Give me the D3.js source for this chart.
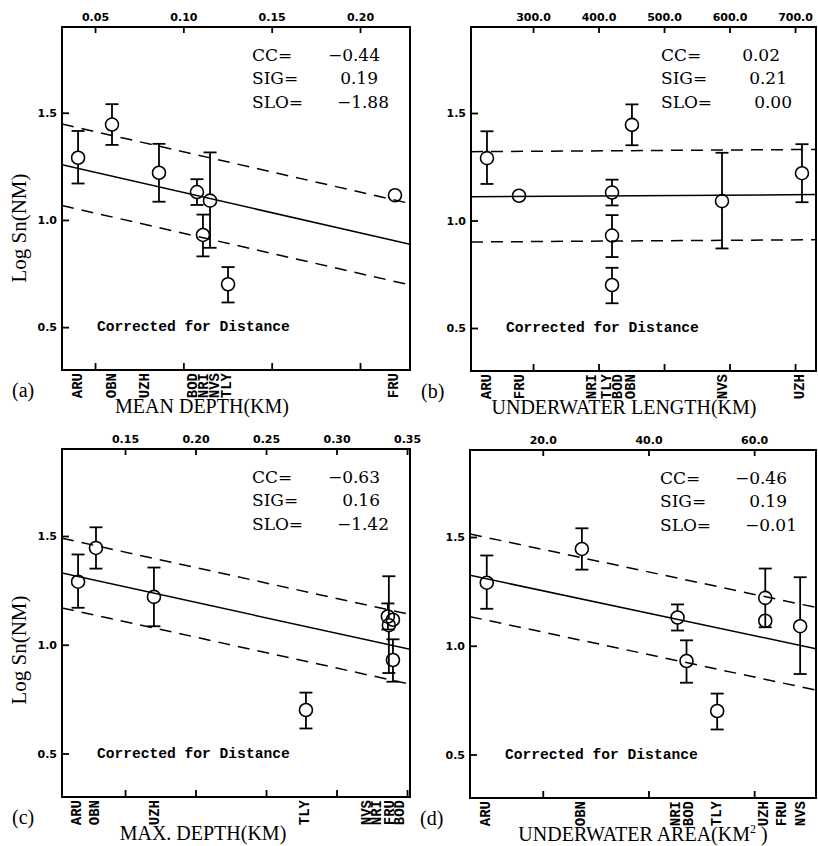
<!DOCTYPE html>
<html><head><meta charset="utf-8">
<script src="https://cdn.jsdelivr.net/npm/d3@7"></script>
<style>body{margin:0;background:#fff}</style>
</head><body><svg id="chart" width="818" height="846"></svg>
<script>
// ---- data ----
const stations = ["ARU","OBN","UZH","BOD","NRI","NVS","TLY","FRU"];
const logSn    = [1.29, 1.445, 1.22, 1.13, 0.93, 1.09, 0.70, 1.115];
const errLow   = [1.17, 1.35, 1.085, 1.07, 0.83, 0.87, 0.615, null];
const errHigh  = [1.415, 1.54, 1.355, 1.19, 1.025, 1.315, 0.78, null];

// x values per panel (station order)
const meanDepth        = [0.0404, 0.0596, 0.0862, 0.1077, 0.1111, 0.1151, 0.1253, 0.2198];
const meanDepthLabels  = [0.0404, 0.0596, 0.0783, 0.1054, 0.1117, 0.1179, 0.1247, 0.2192];
const uwLength         = [229.7, 451, 710.6, 420.6, 420.6, 588.5, 420.6, 278.6];
const uwLengthLabels   = [229.7, 449.6, 707.6, 429.8, 390, 590, 413, 280];
const maxDepth         = [0.1167, 0.1294, 0.1705, 0.3364, 0.3400, 0.3371, 0.2783, 0.3400];
const maxDepthLabels   = [0.1160, 0.1287, 0.1713, 0.3450, 0.3286, 0.3215, 0.2776, 0.3379];
const uwArea           = [9.4, 27.4, 62.1, 45.5, 47.2, 68.7, 53.0, 62.1];
const uwAreaLabels     = [9.2, 27.2, 61.9, 47.7, 45.3, 68.9, 53.0, 65.3];

const meanDepthTicks = [0.05, 0.10, 0.15, 0.20];
const uwLengthTicks  = [300, 400, 500, 600, 700];
const maxDepthTicks  = [0.15, 0.20, 0.25, 0.30, 0.35];
const uwAreaTicks    = [20, 40, 60];
const yTicks = [0.5, 1.0, 1.5];

const ccValues     = [-0.44, 0.02, -0.63, -0.46];
const sigValues    = [0.19, 0.21, 0.16, 0.19];
const fitIntercept = [1.316, 1.106, 1.479, 1.356];
const fitSlope     = [-1.88, 0.00002, -1.42, -0.00516];

// ---- layout ----
const panels = [
  {tag:"(a)", box:{l:62,r:410,t:27,b:370}, xd:[0.0313,0.2283], ticks:meanDepthTicks, fmt:".2f",
   xs:meanDepth, lx:meanDepthLabels, title:"MEAN DEPTH(KM)", titleX:202, ylab:true, vEnd:[30,32,21]},
  {tag:"(b)", box:{l:471,r:816,t:27,b:371}, xd:[205.3,732], ticks:uwLengthTicks, fmt:".1f",
   xs:uwLength, lx:uwLengthLabels, title:"UNDERWATER LENGTH(KM)", titleX:624, ylab:false, vEnd:[36,29,24]},
  {tag:"(c)", box:{l:62,r:410,t:449,b:797}, xd:[0.1053,0.3521], ticks:maxDepthTicks, fmt:".2f",
   xs:maxDepth, lx:maxDepthLabels, title:"MAX. DEPTH(KM)", titleX:203, ylab:true, vEnd:[30,30,21]},
  {tag:"(d)", box:{l:470,r:816,t:450,b:798}, xd:[6.23,71.7], ticks:uwAreaTicks, fmt:".1f",
   xs:uwArea, lx:uwAreaLabels, title:"UNDERWATER AREA(KM", sup:"2", titleX:643, ylab:false, vEnd:[29,29,19]}
];

const svg = d3.select("#chart");
svg.append("rect").attr("width",818).attr("height",846).attr("fill","#fff");
const serif = "'Liberation Serif','Times New Roman',serif";
const statFont = "'DejaVu Serif',serif";
const tickFont = "'DejaVu Sans',sans-serif";
const mono = "'Liberation Mono','Courier New',monospace";

panels.forEach((p, i) => {
  const B = p.box;
  const x = d3.scaleLinear().domain(p.xd).range([B.l, B.r]);
  const y = d3.scaleLinear().domain([0.3, 1.9]).range([B.b, B.t]);
  const g = svg.append("g");
  const clipId = "clip" + i;
  svg.append("clipPath").attr("id", clipId).append("rect")
    .attr("x", B.l).attr("y", B.t).attr("width", B.r - B.l).attr("height", B.b - B.t);

  // fit lines
  const x0 = p.xd[0], x1 = p.xd[1];
  const f = v => fitIntercept[i] + fitSlope[i] * v;
  const lg = g.append("g").attr("clip-path", `url(#${clipId})`);
  [0, 1, -1].forEach(k => {
    lg.append("line")
      .attr("x1", x(x0)).attr("y1", y(f(x0) + k * sigValues[i]))
      .attr("x2", x(x1)).attr("y2", y(f(x1) + k * sigValues[i]))
      .attr("stroke", "#000").attr("stroke-width", 1.5)
      .attr("stroke-dasharray", k === 0 ? null : "12,8");
  });

  // points + error bars
  const r = 6.5;
  stations.forEach((s, j) => {
    const cx = x(p.xs[j]), cy = y(logSn[j]);
    if (errHigh[j] != null) {
      const yh = y(errHigh[j]), yl = y(errLow[j]);
      g.append("line").attr("x1", cx).attr("x2", cx).attr("y1", yh).attr("y2", cy - r)
        .attr("stroke", "#000").attr("stroke-width", 1.8);
      g.append("line").attr("x1", cx).attr("x2", cx).attr("y1", cy + r).attr("y2", yl)
        .attr("stroke", "#000").attr("stroke-width", 1.8);
      [yh, yl].forEach(yy => g.append("line").attr("x1", cx - 6.5).attr("x2", cx + 6.5)
        .attr("y1", yy).attr("y2", yy).attr("stroke", "#000").attr("stroke-width", 1.8));
    }
    g.append("circle").attr("cx", cx).attr("cy", cy).attr("r", r)
      .attr("fill", "none").attr("stroke", "#000").attr("stroke-width", 1.6);
  });

  // axes
  const top = g.append("g").attr("transform", `translate(0,${B.t})`)
    .call(d3.axisTop(x).tickValues(p.ticks).tickFormat(d3.format(p.fmt)).tickSize(-6).tickSizeOuter(0).tickPadding(6));
  const bot = g.append("g").attr("transform", `translate(0,${B.b})`)
    .call(d3.axisBottom(x).tickValues(p.ticks).tickFormat("").tickSize(-7).tickSizeOuter(0));
  const left = g.append("g").attr("transform", `translate(${B.l},0)`)
    .call(d3.axisLeft(y).tickValues(yTicks).tickFormat(d3.format(".1f")).tickSize(-7).tickSizeOuter(0).tickPadding(5));
  [top, bot, left].forEach(a => {
    a.selectAll(".domain").remove();
    a.selectAll("line").attr("stroke", "#000").attr("stroke-width", 1.8);
    a.selectAll("text").attr("font-family", tickFont).attr("font-weight", "bold")
      .attr("font-size", 11).attr("fill", "#000");
  });
  g.append("rect").attr("x", B.l).attr("y", B.t).attr("width", B.r - B.l).attr("height", B.b - B.t)
    .attr("fill", "none").attr("stroke", "#000").attr("stroke-width", 2);

  // stats
  const labels = ["CC=", "SIG=", "SLO="];
  const vals = [d3.format(".2f")(ccValues[i]), d3.format(".2f")(sigValues[i]), d3.format(".2f")(fitSlope[i])];
  const base = [34, 57, 81];
  labels.forEach((t, k) => {
    g.append("text").attr("x", B.l + 190).attr("y", B.t + base[k]).text(t)
      .attr("font-family", statFont).attr("font-size", 17);
    g.append("text").attr("x", B.r - p.vEnd[k]).attr("y", B.t + base[k]).text(vals[k])
      .attr("text-anchor", "end").attr("font-family", statFont).attr("font-size", 17);
  });

  g.append("text").attr("x", B.l + 35).attr("y", y(0.5) + 4).text("Corrected for Distance")
    .attr("font-family", mono).attr("font-weight", "bold").attr("font-size", 14.6);

  // station labels
  stations.forEach((s, j) => {
    const lx = x(p.lx[j]);
    g.append("text").attr("transform", `translate(${lx},${B.b + 3}) rotate(-90)`)
      .attr("text-anchor", "end").attr("dominant-baseline", "central")
      .attr("font-family", mono).attr("font-weight", "bold").attr("font-size", 14).text(s);
  });

  // titles
  const tt = g.append("text").attr("x", p.titleX).attr("y", B.b + 43).attr("text-anchor", "middle")
    .attr("font-family", serif).attr("font-size", 20);
  tt.append("tspan").text(p.title);
  if (p.sup) {
    tt.append("tspan").attr("dy", -8).attr("font-size", 12).text(p.sup);
    tt.append("tspan").attr("dy", 8).text(" )");
  }
  g.append("text").attr("x", B.l - 50).attr("y", B.b + 27).text(p.tag)
    .attr("font-family", serif).attr("font-size", 20);
  if (p.ylab) {
    g.append("text").attr("transform", `translate(19,${B.t + 201}) rotate(-90)`)
      .attr("text-anchor", "middle").attr("dominant-baseline", "central")
      .attr("font-family", serif).attr("font-size", 21).text("Log Sn(NM)");
  }
});
</script></body></html>
